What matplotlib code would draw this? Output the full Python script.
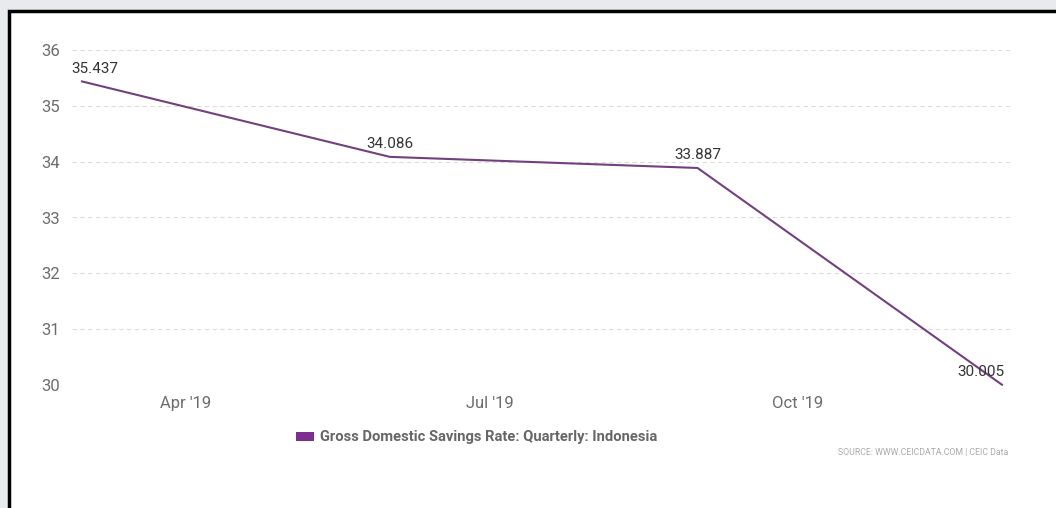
import matplotlib
matplotlib.use('Agg')
import matplotlib.pyplot as plt
import matplotlib.dates as mdates
from matplotlib.patches import Rectangle
import datetime as dt

plt.rcParams['font.family'] = ['Roboto', 'DejaVu Sans']

# data
dates = [dt.date(2019, 3, 1), dt.date(2019, 6, 1), dt.date(2019, 9, 1), dt.date(2019, 12, 1)]
values = [35.437, 34.086, 33.887, 30.005]
labels = ['35.437', '34.086', '33.887', '30.005']
series_name = 'Gross Domestic Savings Rate: Quarterly: Indonesia'
tick_dates = [dt.date(2019, 4, 1), dt.date(2019, 7, 1), dt.date(2019, 10, 1)]
tick_labels = ["Apr '19", "Jul '19", "Oct '19"]

W, H = 1056, 508
fig = plt.figure(figsize=(W / 100, H / 100), dpi=100)
fig.patch.set_facecolor('#e8eaed')

# white panel with black frame
panel = Rectangle((9 / W, -0.05), 1 - 9 / W + 0.01, 1.05 - 11.5 / H, transform=fig.transFigure,
                  facecolor='white', edgecolor='black', linewidth=2.5, zorder=-5)
fig.patches.append(panel)

ax = fig.add_axes([72 / W, 1 - 385 / H, (1012 - 72) / W, (385 - 50) / H])
ax.set_facecolor('none')

line_col = '#73407f'
ax.plot(dates, values, color=line_col, linewidth=1.5, zorder=3, clip_on=False)

offsets = [(-7.5, 0), (0, 0), (0, 0), (2, 0)]
has = ['left', 'center', 'center', 'right']
for d, v, lab, off, ha in zip(dates, values, labels, offsets, has):
    ax.annotate(lab, (mdates.date2num(d), v), xytext=(off[0], 4), textcoords='offset points',
                ha=ha, va='bottom', fontsize=11, color='#333333', zorder=4)

ax.set_ylim(30, 36)
ax.set_yticks(range(30, 37))
ax.set_xlim(mdates.date2num(dt.date(2019, 2, 26)), mdates.date2num(dt.date(2019, 12, 4)))
ax.set_xticks([mdates.date2num(t) for t in tick_dates])
ax.set_xticklabels(tick_labels)

ax.grid(axis='y', color='#dcdcdc', linestyle=(0, (4, 3)), linewidth=0.8)
for s in ax.spines.values():
    s.set_visible(False)
ax.tick_params(axis='both', length=0, labelsize=12, labelcolor='#6b6b6b')
ax.tick_params(axis='y', pad=9)
ax.tick_params(axis='x', pad=8)

# legend
fig.patches.append(Rectangle((296 / W, 1 - 441 / H), 18 / W, 9 / H, transform=fig.transFigure,
                             facecolor='#7d2f8f', edgecolor='none'))
fig.text(320 / W, 1 - 437 / H, series_name, ha='left', va='center', fontsize=10.6,
         fontweight='bold', color='#666666')

fig.text(1008 / W, 1 - 453 / H, 'SOURCE: WWW.CEICDATA.COM | CEIC Data', ha='right', va='center',
         fontsize=6.3, color='#aaaaaa')

fig.savefig('out.png', dpi=100)
